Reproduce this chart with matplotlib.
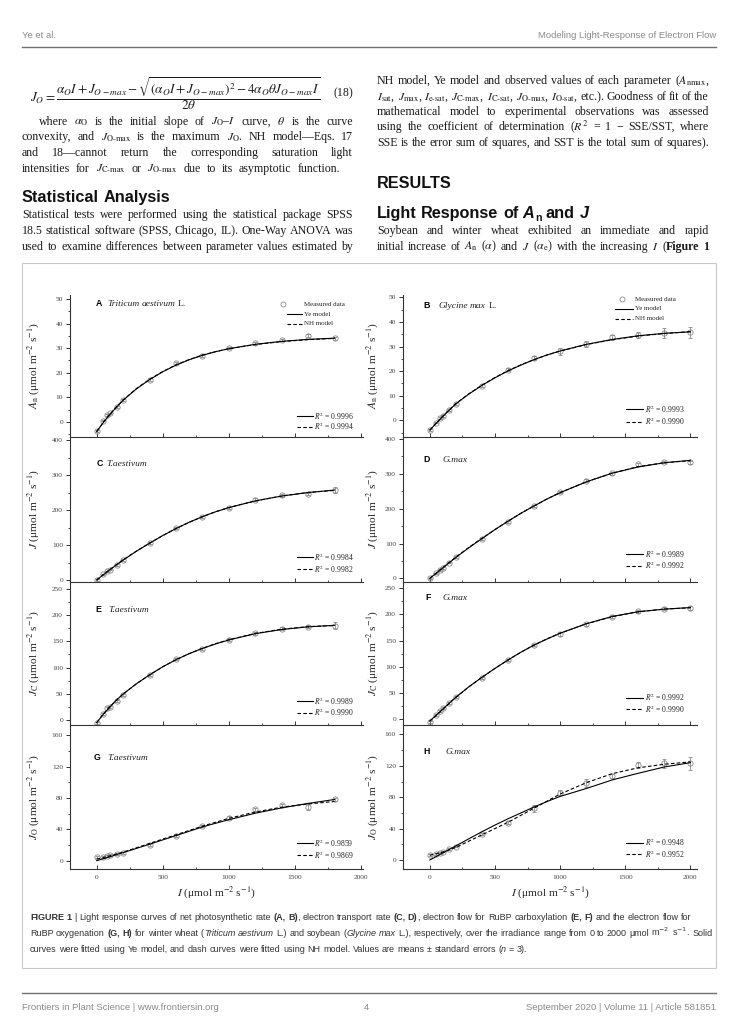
import math
import matplotlib
matplotlib.use('Agg')
import matplotlib.pyplot as plt
from matplotlib.lines import Line2D
from matplotlib.patches import Rectangle
from matplotlib.ticker import MultipleLocator

plt.rcParams['mathtext.fontset'] = 'stix'
plt.rcParams['font.family'] = ['Liberation Serif', 'DejaVu Serif']

W, H = 738, 1026
fig = plt.figure(figsize=(W / 100, H / 100), dpi=100)
renderer = fig.canvas.get_renderer()


def fx(x):
    return x / W


def fy(y):
    return 1 - y / H


# ---------------------------------------------------------------- data
I_wheat = [0, 50, 80, 100, 150, 200, 400, 600, 800, 1000, 1200, 1400, 1600, 1800]
I_soy = [0, 50, 80, 100, 150, 200, 400, 600, 800, 1000, 1200, 1400, 1600, 1800, 2000]
I_fit_wheat = [0, 50, 100, 150, 200, 300, 400, 500, 600, 700, 800, 900, 1000, 1200, 1400, 1600, 1800]
I_fit_soy = [0, 50, 100, 150, 200, 300, 400, 500, 600, 700, 800, 900, 1000, 1200, 1400, 1600, 1800, 2000]

# A: An wheat
An_wheat = [-3.7, 0.5, 2.7, 3.4, 6.0, 9.0, 17.2, 24.0, 27.0, 30.0, 32.0, 33.3, 35.0, 34.0]
An_wheat_se = [0.4, 0.3, 0.3, 0.3, 0.3, 0.4, 0.5, 0.4, 0.5, 0.5, 0.6, 0.5, 0.6, 0.6]
An_wheat_ye = [-4.0, -0.3, 3.0, 6.0, 8.8, 13.4, 17.2, 20.4, 23.1, 25.3, 27.1, 28.6, 29.8, 31.6, 32.8, 33.6, 34.1]
An_wheat_nh = [-4.0, -0.2, 3.1, 6.1, 8.9, 13.5, 17.3, 20.5, 23.2, 25.4, 27.2, 28.6, 29.8, 31.5, 32.7, 33.5, 34.0]
# B: An soybean
An_soy = [-3.9, -0.9, 0.9, 1.7, 4.2, 6.7, 14.1, 20.6, 25.2, 28.1, 31.1, 33.8, 34.7, 35.7, 35.8]
An_soy_se = [0.3, 0.3, 0.3, 0.3, 0.4, 0.4, 0.5, 0.6, 0.8, 1.4, 1.3, 1.0, 1.3, 2.0, 2.2]
An_soy_ye = [-4.0, -1.2, 1.6, 4.2, 6.7, 10.7, 14.2, 17.3, 20.1, 22.5, 24.7, 26.6, 28.2, 30.9, 32.9, 34.4, 35.4, 36.0]
An_soy_nh = [-4.0, -1.1, 1.7, 4.3, 6.8, 10.8, 14.3, 17.4, 20.2, 22.6, 24.7, 26.6, 28.2, 30.8, 32.8, 34.3, 35.3, 36.1]
# C: J wheat
J_wheat = [0, 16, 25, 30, 44, 57, 105, 149, 179, 206, 230, 242, 246, 257]
J_wheat_se = [2, 2, 2, 2, 3, 3, 3, 3, 3, 4, 4, 4, 4, 8]
J_wheat_ye = [0, 15, 29.5, 43.5, 57, 82, 105, 127, 147, 165, 181, 195, 207, 226, 240, 250, 257]
J_wheat_nh = [0, 15.2, 30, 44, 57.5, 82.5, 105.5, 127, 147, 165, 181, 195, 207, 226, 240, 250, 256]
# D: J soybean
J_soy = [0, 14, 24, 30, 45, 60, 114, 163, 208, 248, 280, 302, 327, 334, 333]
J_soy_se = [2, 2, 2, 2, 2, 3, 3, 3, 3, 4, 4, 4, 4, 4, 4]
J_soy_ye = [0, 15, 30, 45, 60, 88, 114, 140, 164, 187, 208, 228, 246, 277, 302, 320, 332, 339]
J_soy_nh = [0, 15.5, 31, 46, 61, 89, 115, 140, 164, 187, 208, 228, 246, 277, 302, 321, 332, 338]
# E: Jc wheat
Jc_wheat = [-5, 11.5, 22, 25, 37, 48, 86, 116, 135.5, 152.7, 165.4, 173.7, 178, 180]
Jc_wheat_se = [2, 2, 2, 2, 2, 2, 2, 2, 2, 3, 3, 3, 3, 6]
Jc_wheat_ye = [-5, 11, 25, 38, 49.5, 69, 86, 101.5, 115, 126.5, 136.5, 145, 152.5, 164.5, 172.5, 177.5, 180.5]
Jc_wheat_nh = [-5, 11.5, 25.5, 38, 49.5, 69, 86, 101.5, 115, 126.5, 136.5, 145.5, 153, 165, 173, 178, 180]
# F: Jc soybean
Jc_soy = [-5, 8, 16.5, 21, 30.5, 43, 79, 113, 141.5, 162.5, 181, 195.5, 206, 210.7, 212]
Jc_soy_se = [2, 2, 2, 2, 2, 2, 2, 2, 2, 3, 3, 3, 3, 3, 4]
Jc_soy_ye = [-3, 8, 19.5, 31, 42, 62, 80, 97, 113, 128, 141.5, 153, 164, 182, 196, 205, 210, 213]
Jc_soy_nh = [-3.5, 7.5, 19, 30.5, 42, 62, 80, 97, 113, 128, 141.5, 153.5, 164, 182, 195.5, 205, 210, 212.5]
# G: Jo wheat
Jo_wheat = [5, 5, 6, 7, 8.5, 10, 20, 31.4, 44, 54.7, 65.3, 70.8, 68.7, 78]
Jo_wheat_se = [1, 1, 1, 1, 1, 1, 1.5, 1.5, 1.5, 2, 2, 2, 4, 2.5]
Jo_wheat_ye = [0, 2.5, 5, 7.7, 10.3, 15.6, 21, 26.5, 32, 37.5, 43, 47.7, 52.2, 60.5, 67.3, 73, 78]
Jo_wheat_nh = [2, 4, 6.2, 8.6, 11, 16.4, 22, 27.5, 33, 38.5, 44, 49, 54, 62, 68.2, 72.3, 75.5]
# H: Jo soybean
Jo_soy = [6.4, 7.6, 9.3, 10.6, 14, 17, 32.7, 47.5, 65.7, 85.7, 97.6, 107, 121, 123, 123]
Jo_soy_se = [1, 1, 1, 1, 1, 1, 1.5, 2, 4, 3, 5, 3, 4, 6, 8]
Jo_soy_ye = [0, 4.5, 9, 13.5, 18, 27, 36, 44.5, 52.5, 60, 67.5, 74.5, 81, 91, 102, 110.5, 118.5, 124]
Jo_soy_nh = [6, 8, 10, 13, 16, 24, 32, 40, 48, 57, 66, 75, 84, 98.4, 110, 117.5, 122, 125]

panel_letters = ['A', 'B', 'C', 'D', 'E', 'F', 'G', 'H']
species = ['Triticum aestivum', 'Glycine max', 'T.aestivum', 'G.max',
           'T.aestivum', 'G.max', 'T.aestivum', 'G.max']
r2_ye = ['0.9996', '0.9993', '0.9984', '0.9989', '0.9989', '0.9992', '0.9859', '0.9948']
r2_nh = ['0.9994', '0.9990', '0.9982', '0.9992', '0.9990', '0.9990', '0.9869', '0.9952']
unit = r' (μmol m$^{-2}$ s$^{-1}$)'
ylabels = [r'$A_{\rm n}$' + unit, r'$A_{\rm n}$' + unit, r'$J$' + unit, r'$J$' + unit,
           r'$J_{\rm C}$' + unit, r'$J_{\rm C}$' + unit, r'$J_{\rm O}$' + unit, r'$J_{\rm O}$' + unit]
xlabel = r'$I$' + unit
xticks = [0, 500, 1000, 1500, 2000]

series = [
    (I_wheat, An_wheat, An_wheat_se, I_fit_wheat, An_wheat_ye, An_wheat_nh),
    (I_soy, An_soy, An_soy_se, I_fit_soy, An_soy_ye, An_soy_nh),
    (I_wheat, J_wheat, J_wheat_se, I_fit_wheat, J_wheat_ye, J_wheat_nh),
    (I_soy, J_soy, J_soy_se, I_fit_soy, J_soy_ye, J_soy_nh),
    (I_wheat, Jc_wheat, Jc_wheat_se, I_fit_wheat, Jc_wheat_ye, Jc_wheat_nh),
    (I_soy, Jc_soy, Jc_soy_se, I_fit_soy, Jc_soy_ye, Jc_soy_nh),
    (I_wheat, Jo_wheat, Jo_wheat_se, I_fit_wheat, Jo_wheat_ye, Jo_wheat_nh),
    (I_soy, Jo_soy, Jo_soy_se, I_fit_soy, Jo_soy_ye, Jo_soy_nh),
]
yticks = [[0, 10, 20, 30, 40, 50], [0, 10, 20, 30, 40, 50],
          [0, 100, 200, 300, 400], [0, 100, 200, 300, 400],
          [0, 50, 100, 150, 200, 250], [0, 50, 100, 150, 200, 250],
          [0, 40, 80, 120, 160], [0, 40, 80, 120, 160]]


# ---------------------------------------------------------------- text helpers
def measure(s, kw):
    t = fig.text(0, 0, s, **kw)
    w = t.get_window_extent(renderer).width
    t.remove()
    return w


def run(x, yb, s, kw):
    """Text placed at baseline yb; plain text is snapped so every word lands on the same pixel row."""
    t = fig.text(0, 0, s, va='baseline', ha='left', **kw)
    B = yb
    if '$' not in s:
        _, h, d = renderer.get_text_width_height_descent(s, t.get_fontproperties(), ismath=False)
        B = round(yb) + math.floor(h) - math.floor(h - d) - d
    t.set_position((fx(x), fy(B)))
    return t.get_window_extent(renderer).width


def words_of(pieces):
    words = [[]]
    for text, st in pieces:
        parts = text.split(' ')
        for n, p in enumerate(parts):
            if n > 0:
                words.append([])
            if p:
                words[-1].append((p, st))
    return [w for w in words if w]


def draw_words(pieces, x0, yb, styles, x1=None):
    """One text object per word; justified between x0 and x1 when x1 is given."""
    words = words_of(pieces)
    meas = [[(p, st, measure(p, styles[st])) for p, st in w] for w in words]
    widths = [sum(m for _, _, m in ws) for ws in meas]
    first = styles[words[0][0][1]]
    space = measure('a a', first) - measure('aa', first)
    if x1 is not None and len(words) > 1:
        gap = (x1 - x0 - sum(widths)) / (len(words) - 1)
    else:
        gap = space
    x = x0
    for ws in meas:
        for p, st, m in ws:
            run(x, yb, p, styles[st])
            x += m
        x += gap


# ---------------------------------------------------------------- panels
col_x = [(70, 363), (403, 697)]
row_y = [(295, 437), (437, 582), (582, 725), (725, 869)]
ylims = [(-6.2, 51.7), (-6.8, 51.0), (-5.7, 408.6), (-10.6, 406), (-9.5, 263), (-10.9, 261.7),
         (-10.6, 172.9), (-11.5, 172)]
xlims = [(-202, 2015), (-206, 2051)]
yminor = [5, 5, 50, 50, 25, 25, 20, 20]
letter_pos = [(96, 304), (423, 306), (97, 463), (423, 459), (95, 609), (425, 598), (94, 757), (423, 752)]
species_x = [107, 438, 106, 442, 108, 442, 107, 445]
r2_rows = [(416, 426.5), (409, 421.5), (557.3, 569.3), (554.3, 565.7), (701.3, 712.7), (697.7, 709),
           (843.3, 855), (842.7, 854)]
ylabel_x = [41, 380]

DASH = (0, (3.2, 2.0))
PT_COLOR = '#8a8a8a'
AX_COLOR = '#333333'
TXT_COLOR = '#444444'
panel_sty = {
    'it': dict(fontsize=6.8, color='#222222', family='Liberation Serif', style='italic'),
    'rm': dict(fontsize=6.8, color='#222222', family='Liberation Serif'),
}

for k in range(8):
    c, r = k % 2, k // 2
    x0, x1 = col_x[c]
    y0, y1 = row_y[r]
    ax = fig.add_axes([fx(x0), fy(y1), (x1 - x0) / W, (y1 - y0) / H])
    ax.patch.set_alpha(0)
    Ix, Yv, Ye, If, Yye, Ynh = series[k]
    ax.errorbar(Ix, Yv, yerr=Ye, fmt='o', ms=3.8, mfc='none', mec=PT_COLOR, mew=0.6,
                ecolor=PT_COLOR, elinewidth=0.6, capsize=1.6, capthick=0.6, zorder=2)
    ax.plot(If, Yye, color='black', lw=0.8, zorder=3)
    ax.plot(If, Ynh, color='black', lw=0.8, linestyle=DASH, zorder=3)
    ax.set_xlim(*xlims[c])
    ax.set_ylim(*ylims[k])
    ax.set_xticks(xticks)
    ax.xaxis.set_minor_locator(MultipleLocator(250))
    ax.set_yticks(yticks[k])
    ax.yaxis.set_minor_locator(MultipleLocator(yminor[k]))
    for s in ['top', 'right']:
        ax.spines[s].set_visible(False)
    for s in ['left', 'bottom']:
        ax.spines[s].set_color(AX_COLOR)
        ax.spines[s].set_linewidth(0.8)
    ax.tick_params(axis='x', which='major', direction='in', length=3.2, width=0.7, color=AX_COLOR,
                   labelsize=5.3, labelcolor=TXT_COLOR, pad=4)
    ax.tick_params(axis='x', which='minor', direction='in', length=1.8, width=0.6, color=AX_COLOR)
    ax.tick_params(axis='y', which='major', direction='out', length=2.6, width=0.7, color=AX_COLOR,
                   labelsize=5.3, labelcolor=TXT_COLOR, pad=2.5)
    ax.tick_params(axis='y', which='minor', direction='out', length=1.5, width=0.6, color=AX_COLOR)
    if r < 3:
        ax.tick_params(axis='x', labelbottom=False)
    else:
        ax.set_xlabel(xlabel, fontsize=8.2, color='#222222', labelpad=3)
    ax.set_ylabel(ylabels[k], fontsize=8.2, color='#222222')
    ax.yaxis.set_label_coords((ylabel_x[c] - x0) / (x1 - x0), 0.5)

    lx, ly = letter_pos[k]
    run(lx, ly + 2.5, panel_letters[k], dict(family='Liberation Sans', weight='bold', fontsize=6.3, color='black'))
    sp_pieces = [(species[k], 'it')] + ([(' L.', 'rm')] if k < 2 else [])
    draw_words(sp_pieces, species_x[k], ly + 2.5, panel_sty)

    # R^2 legend
    if c == 0:
        lx0, lx1, tx = 297, 313, 314
    else:
        lx0, lx1, tx = 626, 643, 645
    for yy, ls, val in [(r2_rows[k][0], '-', r2_ye[k]), (r2_rows[k][1], DASH, r2_nh[k])]:
        fig.add_artist(Line2D([fx(lx0), fx(lx1)], [fy(yy), fy(yy)], color='black', lw=0.8,
                              linestyle=ls, transform=fig.transFigure))
        fig.text(fx(tx), fy(yy), r'$R^2$ = ' + val, fontsize=5.5, color='#222222',
                 va='center', ha='left')

# top legends (panels A and B)
for (mx, lx0, lx1, tx, rows) in [(283, 287, 302, 304, (304, 314, 323.7)),
                                 (622, 615, 633, 635, (299, 309, 319))]:
    fig.add_artist(Line2D([fx(mx)], [fy(rows[0])], marker='o', ms=3.6, mfc='none', mec=PT_COLOR,
                          mew=0.6, linestyle='none', transform=fig.transFigure))
    fig.add_artist(Line2D([fx(lx0), fx(lx1)], [fy(rows[1])] * 2, color='black', lw=0.8,
                          transform=fig.transFigure))
    fig.add_artist(Line2D([fx(lx0), fx(lx1)], [fy(rows[2])] * 2, color='black', lw=0.8,
                          linestyle=DASH, transform=fig.transFigure))
    for yy, lab in zip(rows, ['Measured data', 'Ye model', 'NH model']):
        fig.text(fx(tx), fy(yy), lab, fontsize=5.0, color='#222222', va='center', ha='left')

# ---------------------------------------------------------------- body text
BODY = 8.6
BCOL = '#1a1a1a'
body_sty = {
    'r': dict(fontsize=BODY, color=BCOL, family='Liberation Serif', math_fontfamily='stix'),
    'b': dict(fontsize=BODY, color=BCOL, family='Liberation Serif', weight='bold'),
}
HY = r'\text{-}'


def sub(a, b):
    return '$' + a + '_{\\mathrm{' + b + '}}$'


def subh(a, b, c):
    return '$' + a + '_{\\mathrm{' + b + '}' + HY + '\\mathrm{' + c + '}}$'


left_lines = [
    ([('where $\\alpha_\\mathrm{O}$ is the initial slope of $J_\\mathrm{O}$–$I$ curve, $\\theta$ is the curve', 'r')], 39, 125, 353),
    ([('convexity, and ' + subh('J', 'O', 'max') + ' is the maximum $J_\\mathrm{O}$. NH model—Eqs. 17', 'r')], 22, 140.5, 353),
    ([('and 18—cannot return the corresponding saturation light', 'r')], 22, 156.5, 353),
    ([('intensities for ' + subh('J', 'C', 'max') + ' or ' + subh('J', 'O', 'max') + ' due to its asymptotic function.', 'r')], 22, 171.5, 340),
    ([('Statistical tests were performed using the statistical package SPSS', 'r')], 22, 218.5, 353),
    ([('18.5 statistical software (SPSS, Chicago, IL). One-Way ANOVA was', 'r')], 22, 234, 353),
    ([('used to examine differences between parameter values estimated by', 'r')], 22, 249.5, 353),
]
for pieces, xs, yb, xe in left_lines:
    draw_words(pieces, xs, yb, body_sty, xe)

right_lines = [
    ([('NH model, Ye model and observed values of each parameter (' + sub('A', 'nmax') + ',', 'r')], 84.5),
    ([(sub('I', 'sat') + ', ' + sub('J', 'max') + ', ' + subh('I', 'e', 'sat') + ', ' + subh('J', 'C', 'max') + ', '
       + subh('I', 'C', 'sat') + ', ' + subh('J', 'O', 'max') + ', ' + subh('I', 'O', 'sat')
       + ', etc.). Goodness of fit of the', 'r')], 99.5),
    ([('mathematical model to experimental observations was assessed', 'r')], 115),
    ([('using the coefficient of determination ($R^2$ = 1 − SSE/SST, where', 'r')], 130.5),
    ([('SSE is the error sum of squares, and SST is the total sum of squares).', 'r')], 146),
    ([('Soybean and winter wheat exhibited an immediate and rapid', 'r')], 234.5),
    ([('initial increase of $A_\\mathrm{n}$ ($\\alpha$) and $J$ ($\\alpha_\\mathrm{e}$) with the increasing $I$ (', 'r'),
      ('Figure 1', 'b')], 249.5),
]
for pieces, yb in right_lines:
    draw_words(pieces, 377, yb, body_sty, 709)

# equation
fig.text(fx(30), fy(93.5), r'$J_O=\dfrac{\alpha_O I+J_{O-max}-\sqrt{(\alpha_O I+J_{O-max})^2-4\alpha_O\theta J_{O-max}I}}{2\theta}$',
         fontsize=9.5, color=BCOL, va='center', ha='left')
fig.text(fx(353), fy(93.5), '(18)', fontsize=8.6, color=BCOL, va='center', ha='right')

# headings
HS = 11.7
head_sty = {
    'hb': dict(fontsize=HS, color='#111111', family='Liberation Sans', weight='bold'),
    'hbi': dict(fontsize=HS, color='#111111', family='Liberation Sans', weight='bold', style='italic'),
}
hsub = dict(fontsize=HS * 0.65, color='#111111', family='Liberation Sans', weight='bold')
draw_words([('Statistical Analysis', 'hb')], 22, 201.5, head_sty)
draw_words([('RESULTS', 'hb')], 377, 188.5, head_sty)
sp_h = measure('a a', head_sty['hb']) - measure('aa', head_sty['hb'])
x = 377
for wd in ['Light', 'Response', 'of']:
    x += run(x, 217.5, wd, head_sty['hb']) + sp_h
x += run(x, 217.5, 'A', head_sty['hbi']) + 0.3
x += run(x, 221, 'n', hsub) + sp_h
x += run(x, 217.5, 'and', head_sty['hb']) + sp_h
run(x, 217.5, 'J', head_sty['hbi'])

# header / footer
HCOL = '#8a8a8a'
FS_HF = 6.8
fig.text(fx(22), fy(35), 'Ye et al.', family='Liberation Sans', fontsize=FS_HF, color=HCOL, va='center', ha='left')
fig.text(fx(716), fy(35), 'Modeling Light-Response of Electron Flow', family='Liberation Sans', fontsize=FS_HF,
         color=HCOL, va='center', ha='right')
fig.add_artist(Line2D([fx(22), fx(716)], [fy(47), fy(47)], color='#707070', lw=1.0, transform=fig.transFigure))
fig.add_artist(Line2D([fx(22), fx(716)], [fy(993), fy(993)], color='#707070', lw=1.0, transform=fig.transFigure))
fig.text(fx(22), fy(1007), 'Frontiers in Plant Science | www.frontiersin.org', family='Liberation Sans',
         fontsize=FS_HF, color=HCOL, va='center', ha='left')
fig.text(fx(366), fy(1007), '4', family='Liberation Sans', fontsize=FS_HF, color=HCOL, va='center', ha='center')
fig.text(fx(716), fy(1007), 'September 2020 | Volume 11 | Article 581851', family='Liberation Sans',
         fontsize=FS_HF, color=HCOL, va='center', ha='right')

# figure box
fig.add_artist(Rectangle((fx(22), fy(968)), (716 - 22) / W, (968 - 263) / H, fill=False,
                         edgecolor='#c8c8c8', lw=0.8, transform=fig.transFigure))

# caption
CAP = 6.5
CCOL = '#333333'
cap_sty = {
    'sr': dict(fontsize=CAP, color=CCOL, family='Liberation Sans', math_fontfamily='dejavusans'),
    'sb': dict(fontsize=CAP, color=CCOL, family='Liberation Sans', weight='bold'),
    'si': dict(fontsize=CAP, color=CCOL, family='Liberation Sans', style='italic'),
}
cap_lines = [
    [('FIGURE 1', 'sb'), (' | Light response curves of net photosynthetic rate ', 'sr'), ('(A, B)', 'sb'),
     (', electron transport rate ', 'sr'), ('(C, D)', 'sb'), (', electron flow for RuBP carboxylation ', 'sr'),
     ('(E, F)', 'sb'), (' and the electron flow for', 'sr')],
    [('RuBP oxygenation ', 'sr'), ('(G, H)', 'sb'), (' for winter wheat (', 'sr'), ('Triticum aestivum', 'si'),
     (' L.) and soybean (', 'sr'), ('Glycine max', 'si'),
     (' L.), respectively, over the irradiance range from 0 to 2000 μmol m$^{-2}$ s$^{-1}$. Solid', 'sr')],
    [('curves were fitted using Ye model, and dash curves were fitted using NH model. Values are means ± standard errors (', 'sr'),
     ('n', 'si'), (' = 3).', 'sr')],
]
for n, pieces in enumerate(cap_lines):
    draw_words(pieces, 30, 920.5 + 16 * n, cap_sty)

fig.savefig('out.png', dpi=100)
